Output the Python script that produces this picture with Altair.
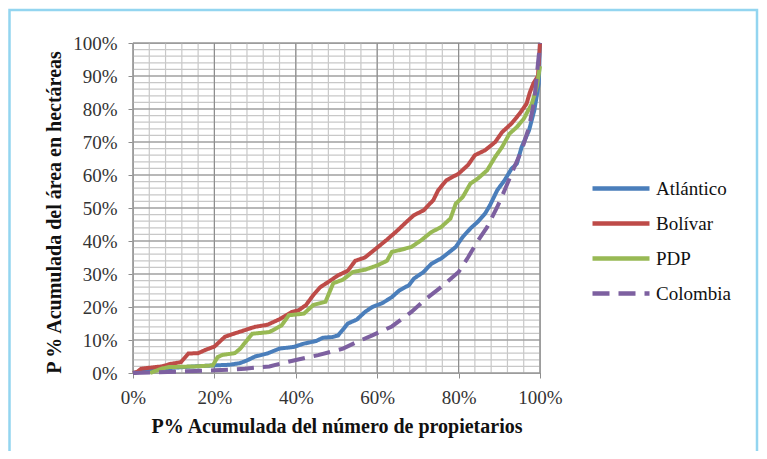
import altair as alt
import pandas as pd

series_names = ["Atlántico", "Bolívar", "PDP", "Colombia"]
series_colors = ["#4A7EBB", "#BE4B48", "#98B954", "#7D60A0"]

atl_x = [0, 5, 10, 15, 20, 23.8, 26.3, 28, 30, 33, 36, 39.5, 42, 45, 46.7, 49, 50.4, 52.8, 55, 57, 58.8,
         61.3, 63.6, 65.4, 67.8, 69, 71.4, 73.3, 75.7, 77.5, 79.3, 81, 82.9, 84.7, 86.5, 87.7, 89.5, 91.3,
         93, 94.3, 95.5, 97.3, 98.6, 99.7, 100]
atl_y = [0, 1.0, 1.6, 2.0, 2.3, 2.5, 3, 3.8, 5, 5.9, 7.4, 7.9, 8.9, 9.7, 10.7, 10.9, 11.4, 15, 16.2, 18.5, 20,
         21.2, 23, 25, 26.6, 28.6, 30.6, 33.1, 34.7, 36.4, 38.2, 41.2, 43.8, 45.8, 48.3, 50.8, 55.4, 58.4,
         61.9, 63.4, 68.5, 73.5, 79.6, 87.7, 100]

bol_x = [0, 1, 2, 7, 9.4, 11.8, 13.6, 16, 17.8, 20, 22.6, 25, 27.5, 30, 33, 36, 39, 40.7, 42.5, 44.3, 46,
         48, 50.4, 52.8, 54.6, 57, 60, 62.4, 64.8, 67.2, 69, 71.4, 73.8, 75, 77, 80, 82.3, 84, 86.5, 89,
         90.7, 93, 95, 96.7, 97.5, 98.4, 99.5, 100]
bol_y = [0, 0.3, 1.3, 2, 2.8, 3.3, 5.9, 6, 7, 8, 11, 12, 13, 14, 14.6, 16.3, 18.5, 19, 20.6, 23.6, 26,
         27.6, 29.6, 31, 34, 35, 38, 40.4, 43, 45.8, 47.8, 49.3, 52.4, 55.4, 58.4, 60.4, 63, 66, 67.5, 70,
         73, 75.6, 78.6, 81.6, 85, 87.8, 90, 100]

pdp_x = [4.2, 7, 8.8, 15.4, 19.6, 20.8, 22, 25, 26.3, 29.3, 33.5, 36.5, 38.3, 42, 44.3, 47.3, 49.2, 51.6,
         54, 57, 60, 62.4, 63.6, 66, 68.4, 70.8, 73.3, 75.7, 78, 79.3, 81, 82.9, 84.7, 87, 89, 90.7, 92.5,
         94.3, 96, 98, 99.2, 100]
pdp_y = [0, 1.3, 1.8, 2, 2.3, 4.8, 5.5, 6, 7.3, 11.9, 12.4, 14.4, 17.5, 18, 20.6, 21.6, 27.2, 28.3,
         30.6, 31.3, 32.6, 34, 36.7, 37.4, 38.2, 40.2, 42.7, 44.2, 46.8, 51.3, 53.3, 57.4, 58.9, 61.4, 65.5,
         68.5, 72.5, 74.5, 77, 81.6, 86.7, 93]

col_x = [0, 15.4, 20, 27.5, 33.5, 39.5, 45.5, 51.6, 55, 58.8, 63.6, 68.4, 72, 75.7, 80, 82.3, 84.7, 87,
         89.5, 91.3, 93.7, 95.5, 97.3, 98.6, 100]
col_y = [0, 0.6, 0.8, 1.3, 2, 3.8, 5.4, 7.4, 9.4, 11.4, 14.1, 18.5, 22.5, 26, 30.6, 35, 40, 44.2, 50.3,
         55.4, 62.4, 67.5, 74.5, 82.6, 100]

x_major = [0, 20, 40, 60, 80, 100]
y_major = [0, 10, 20, 30, 40, 50, 60, 70, 80, 90, 100]
x_minor = list(range(0, 101, 4))
y_minor = list(range(0, 101, 2))

x_title = "P% Acumulada del número de propietarios"
y_title = "P % Acumulada del área en hectáreas"

rows = []
for name, xs_, ys_ in zip(series_names, [atl_x, bol_x, pdp_x, col_x], [atl_y, bol_y, pdp_y, col_y]):
    for i, (a, b) in enumerate(zip(xs_, ys_)):
        rows.append({"serie": name, "x": a, "y": b, "idx": i})
df = pd.DataFrame(rows)

xs = alt.Scale(domain=[0, 100], nice=False)
ys = alt.Scale(domain=[0, 100], nice=False)
x_axis = alt.Axis(values=x_major, labelExpr="datum.value + '%'", grid=False, labelFlush=False,
                  labelPadding=10, titleX=203.5, titleY=53, titleBaseline="middle", titleAlign="center")
y_axis = alt.Axis(values=y_major, labelExpr="datum.value + '%'", grid=False, labelFlush=False,
                  labelPadding=11, titleX=-79, titleY=169, titleBaseline="middle", titleAlign="center",
                  titleAngle=270)


def xenc(field):
    return alt.X(field, scale=xs, title=x_title, axis=x_axis)


def yenc(field):
    return alt.Y(field, scale=ys, title=y_title, axis=y_axis)


minor_col = "#c8c8c8"
major_col = "#8e8e8e"

v_minor = alt.Chart(pd.DataFrame({"x": x_minor})).mark_rule(color=minor_col, strokeWidth=1.2).encode(
    x=xenc("x:Q"))
h_minor = alt.Chart(pd.DataFrame({"y": y_minor})).mark_rule(color=minor_col, strokeWidth=1.2).encode(
    y=yenc("y:Q"))
v_major = alt.Chart(pd.DataFrame({"x": x_major})).mark_rule(color=major_col, strokeWidth=1.2).encode(
    x=xenc("x:Q"))
h_major = alt.Chart(pd.DataFrame({"y": y_major})).mark_rule(color=major_col, strokeWidth=1.2).encode(
    y=yenc("y:Q"))

leg = alt.Legend(title=None, orient="none", legendX=457, legendY=128, symbolType="stroke",
                 symbolSize=3249, symbolStrokeWidth=4.5, labelFont="Liberation Serif",
                 labelFontSize=19, labelColor="#111", rowPadding=0, clipHeight=35, labelOffset=4)

lines = alt.Chart(df).mark_line(strokeWidth=4, strokeCap="butt").encode(
    x=xenc("x:Q"),
    y=yenc("y:Q"),
    color=alt.Color("serie:N", scale=alt.Scale(domain=series_names, range=series_colors), legend=leg),
    strokeDash=alt.StrokeDash("serie:N", scale=alt.Scale(domain=series_names,
                                                         range=[[1, 0], [1, 0], [1, 0], [17, 9]]), legend=leg),
    order="idx:Q",
)

border = alt.Chart(pd.DataFrame({"a": [0]})).mark_rect(
    fillOpacity=0, stroke="#93d5f0", strokeWidth=2.5).encode(
    x=alt.value(-123.5), x2=alt.value(624), y=alt.value(-33), y2=alt.value(430))

chart = alt.layer(border, v_minor, h_minor, v_major, h_major, lines).properties(
    width=407, height=330,
    padding={"left": 125, "top": 35, "right": 219, "bottom": 78},
    autosize=alt.AutoSizeParams(type="none"),
).configure_view(stroke=major_col, strokeWidth=1.2).configure_axis(
    labelFont="Liberation Serif", labelFontSize=19, labelColor="#333",
    tickColor=major_col, tickSize=5, domainColor=major_col,
    titleFont="Liberation Serif", titleFontSize=20, titleFontWeight="bold", titleColor="#111",
).configure_legend(
    labelFont="Liberation Serif", labelFontSize=19, labelColor="#111")

chart.save("out.html", embed_options={"renderer": "svg", "actions": False})
